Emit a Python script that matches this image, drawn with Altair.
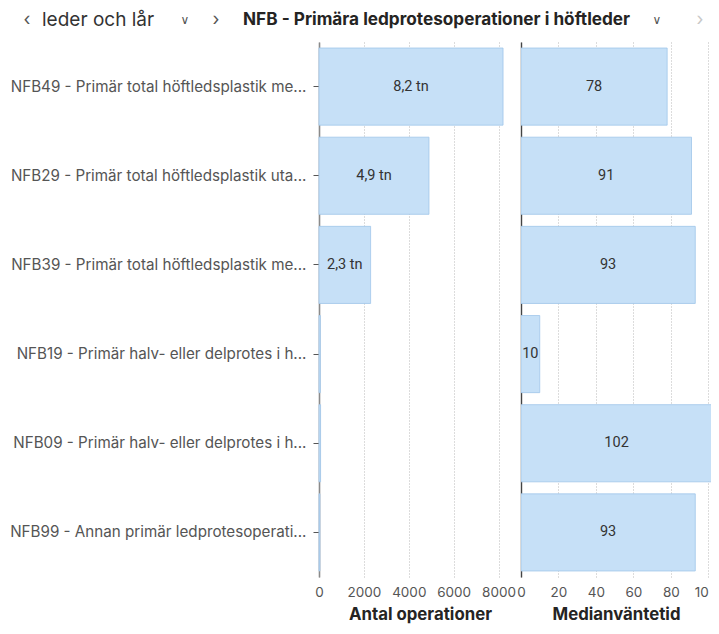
import altair as alt
import pandas as pd

codes = [
    "NFB49 - Primär total höftledsplastik me...",
    "NFB29 - Primär total höftledsplastik uta...",
    "NFB39 - Primär total höftledsplastik me...",
    "NFB19 - Primär halv- eller delprotes i h...",
    "NFB09 - Primär halv- eller delprotes i h...",
    "NFB99 - Annan primär ledprotesoperati...",
]
antal = [8200, 4900, 2300, 60, 70, 40]
antal_labels = ["8,2 tn", "4,9 tn", "2,3 tn", "", "", ""]
median = [78, 91, 93, 10, 102, 93]
median_labels = ["78", "91", "93", "10", "102", "93"]

antal_ticks = [0, 2000, 4000, 6000, 8000]
median_ticks = [0, 20, 40, 60, 80, 100]

header_left = "leder och lår"
header_right = "NFB - Primära ledprotesoperationer i höftleder"

df = pd.DataFrame({
    "kod": codes,
    "antal": antal,
    "antal_lbl": antal_labels,
    "median": median,
    "median_lbl": median_labels,
})

FILL = "#c6e0f7"
STROKE = "#9fc5ea"
FONT = "Inter"
LBLFONT = "Roboto"

grid_kw = dict(grid=True, gridDash=[1, 2], gridColor="#b8b8b8", gridWidth=1,
               domain=False, ticks=False, tickSize=0, labelPadding=8,
               labelFont=FONT, labelFontSize=13.5, labelColor="#555555",
               labelFlush=False, labelOverlap=False, titleFont=FONT,
               titleFontSize=16.8, titleFontWeight="bold", titleColor="#252423",
               titlePadding=8)

yscale = alt.Scale(paddingInner=0.135)
xscale_left = alt.Scale(domain=[0, 9000], nice=False)
xscale_right = alt.Scale(domain=[0, 101.4], nice=False)

y_axis_left = alt.Axis(labelFont=FONT, labelFontSize=15.2, labelColor="#555555",
                       labelLimit=400, tickColor="#555555", tickSize=6,
                       labelPadding=7, domainColor="#8a8a8a", domainWidth=1.6,
                       grid=False)
y_axis_right = alt.Axis(labels=False, ticks=False, domain=True,
                        domainColor="#444444", domainWidth=1.4, grid=False)
x_axis_left = alt.Axis(values=antal_ticks, format="d",
                       title="Antal operationer", **grid_kw)
x_axis_right = alt.Axis(values=median_ticks, format="d",
                        labelExpr="datum.value == 100 ? '10' : datum.label",
                        labelAlign=alt.condition("datum.value == 100",
                                                 alt.value("right"),
                                                 alt.value("center")),
                        title="Medianväntetid", **grid_kw)

base = alt.Chart(df)

left_bars = base.mark_bar(color=FILL, stroke=STROKE, strokeWidth=0.8).encode(
    y=alt.Y("kod:N", sort=None, title=None, scale=yscale, axis=y_axis_left),
    x=alt.X("antal:Q", scale=xscale_left, axis=x_axis_left),
)
left_text = base.mark_text(font=LBLFONT, fontSize=14.5, color="#333333",
                           baseline="middle", align="center").transform_calculate(
    mid="datum.antal / 2"
).encode(
    y=alt.Y("kod:N", sort=None, title=None, scale=yscale, axis=y_axis_left),
    x=alt.X("mid:Q", scale=xscale_left, title="Antal operationer", axis=x_axis_left),
    text="antal_lbl:N",
)

hdr_df = pd.DataFrame({"a": [header_left], "b": [header_right]})
hbase = alt.Chart(hdr_df)
HY = -22


def glyph(txt, x, size=18, color="#555555", font=FONT):
    return hbase.mark_text(align="center", baseline="middle", fontSize=size,
                           color=color, font=font).encode(
        x=alt.value(x), y=alt.value(HY), text=alt.value(txt))


header_layers = [
    glyph("‹", -292),
    hbase.mark_text(align="left", baseline="middle", fontSize=19, font=FONT,
                    color="#333333").encode(x=alt.value(-277), y=alt.value(HY), text="a:N"),
    glyph("∨", -134, size=12, font="DejaVu Sans"),
    glyph("›", -103),
    hbase.mark_text(align="left", baseline="middle", fontSize=17.2, font=FONT,
                    fontWeight="bold", color="#252423").encode(
        x=alt.value(-76), y=alt.value(HY), text="b:N"),
    glyph("∨", 338, size=12, font="DejaVu Sans"),
    glyph("›", 381, color="#c8c8c8"),
    # invisible anchor fixing the top-left corner of the drawing
    hbase.mark_rule(opacity=0, strokeOpacity=0).encode(
        x=alt.value(-311), y=alt.value(-34), y2=alt.value(-30)),
]

left = alt.layer(left_bars, left_text, *header_layers).properties(width=202, height=535)

right_bars = base.mark_bar(color=FILL, stroke=STROKE, strokeWidth=0.8, clip=True).encode(
    y=alt.Y("kod:N", sort=None, title=None, scale=yscale, axis=y_axis_right),
    x=alt.X("median:Q", scale=xscale_right, axis=x_axis_right),
)
right_text = base.mark_text(font=LBLFONT, fontSize=14.5, color="#333333",
                            baseline="middle", align="center").transform_calculate(
    mid="datum.median / 2"
).encode(
    y=alt.Y("kod:N", sort=None, title=None, scale=yscale, axis=y_axis_right),
    x=alt.X("mid:Q", scale=xscale_right, title="Medianväntetid", axis=x_axis_right),
    text="median_lbl:N",
)
right = alt.layer(right_bars, right_text).properties(width=190, height=535)

chart = alt.hconcat(left, right, spacing=0, bounds="flush", padding=0).configure_view(
    stroke=None
)

chart.save("out.html", embed_options={"renderer": "svg", "actions": False})
